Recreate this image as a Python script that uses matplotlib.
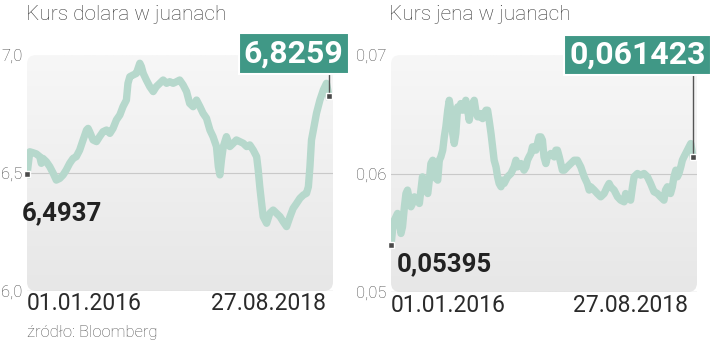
import numpy as np
import matplotlib
matplotlib.use('Agg')
import matplotlib.pyplot as plt
import matplotlib.transforms as mtransforms
from matplotlib.patches import FancyBboxPatch
from matplotlib.colors import LinearSegmentedColormap

# dane: dni od 01.01.2016, kurs
dni_usd = [0, 9, 19, 30, 41, 46, 51, 62, 73, 84, 94, 105, 116, 126, 137, 148, 158, 169,
           180, 191, 196, 201, 212, 223, 233, 244, 255, 266, 276, 287, 298, 308, 319, 324,
           330, 340, 351, 362, 367, 373, 383, 394, 405, 415, 426, 437, 448, 458, 469, 480,
           490, 501, 512, 522, 533, 544, 555, 565, 576, 587, 597, 608, 614, 619, 624, 630,
           640, 651, 662, 672, 683, 694, 705, 715, 726, 737, 742, 747, 753, 758, 769, 779,
           790, 801, 812, 822, 833, 844, 854, 865, 876, 887, 897, 903, 908, 913, 919, 929,
           940, 951, 961, 969]
kurs_usd = [6.4937, 6.590, 6.586, 6.581, 6.569, 6.541, 6.562, 6.548, 6.527, 6.499, 6.470,
            6.477, 6.492, 6.513, 6.541, 6.562, 6.569, 6.597, 6.640, 6.682, 6.689, 6.675,
            6.640, 6.633, 6.654, 6.675, 6.682, 6.668, 6.689, 6.725, 6.746, 6.781, 6.809,
            6.880, 6.908, 6.915, 6.922, 6.965, 6.951, 6.922, 6.894, 6.866, 6.845, 6.866,
            6.880, 6.894, 6.880, 6.887, 6.880, 6.887, 6.894, 6.873, 6.845, 6.795, 6.781,
            6.809, 6.781, 6.753, 6.732, 6.682, 6.654, 6.612, 6.527, 6.492, 6.555, 6.612,
            6.654, 6.612, 6.626, 6.640, 6.633, 6.626, 6.612, 6.619, 6.597, 6.569, 6.513,
            6.442, 6.371, 6.315, 6.287, 6.329, 6.343, 6.329, 6.315, 6.294, 6.273, 6.315,
            6.350, 6.371, 6.393, 6.407, 6.414, 6.442, 6.527, 6.640, 6.682, 6.753, 6.809,
            6.852, 6.880, 6.8259]

dni_jpy = [0, 5, 11, 16, 21, 27, 32, 37, 43, 48, 53, 59, 64, 69, 75, 85, 91, 96, 101, 107,
           118, 123, 128, 134, 139, 150, 155, 160, 166, 171, 176, 182, 187, 192, 198, 203,
           208, 214, 219, 224, 230, 235, 240, 246, 251, 256, 262, 267, 272, 278, 283, 288,
           294, 299, 305, 310, 315, 321, 326, 331, 337, 342, 347, 353, 358, 363, 374, 385,
           395, 401, 406, 417, 427, 433, 438, 443, 449, 454, 459, 465, 470, 475, 481, 486,
           491, 497, 502, 513, 524, 529, 534, 540, 545, 550, 556, 566, 577, 588, 598, 609,
           620, 630, 636, 641, 652, 662, 673, 684, 694, 700, 705, 716, 727, 737, 748, 753,
           759, 769, 775, 780, 791, 801, 812, 823, 833, 844, 855, 865, 876, 881, 887, 897,
           903, 908, 914, 919, 924, 930, 935, 940, 951, 962, 969]
kurs_jpy = [0.05395, 0.05522, 0.05607, 0.05635, 0.05663, 0.05607, 0.05494, 0.05551, 0.05719,
            0.05831, 0.05860, 0.05775, 0.05719, 0.05747, 0.05803, 0.05775, 0.05747, 0.05860,
            0.05972, 0.05888, 0.05831, 0.05944, 0.06084, 0.06112, 0.05972, 0.05944, 0.06112,
            0.06140, 0.06197, 0.06309, 0.06393, 0.06534, 0.06618, 0.06534, 0.06337, 0.06253,
            0.06337, 0.06562, 0.06534, 0.06590, 0.06534, 0.06562, 0.06618, 0.06534, 0.06449,
            0.06534, 0.06590, 0.06618, 0.06534, 0.06478, 0.06478, 0.06506, 0.06463, 0.06506,
            0.06534, 0.06534, 0.06449, 0.06337, 0.06225, 0.06112, 0.06056, 0.05972, 0.05916,
            0.05888, 0.05944, 0.05916, 0.05972, 0.06000, 0.06056, 0.06112, 0.06056, 0.06084,
            0.06028, 0.06056, 0.06112, 0.06140, 0.06169, 0.06225, 0.06225, 0.06197, 0.06253,
            0.06309, 0.06309, 0.06281, 0.06140, 0.06084, 0.06140, 0.06169, 0.06140, 0.06197,
            0.06197, 0.06140, 0.06084, 0.06028, 0.06028, 0.06056, 0.06084, 0.06112, 0.06112,
            0.06056, 0.05972, 0.05916, 0.05860, 0.05888, 0.05860, 0.05831, 0.05803, 0.05831,
            0.05888, 0.05916, 0.05888, 0.05860, 0.05803, 0.05775, 0.05761, 0.05831, 0.05803,
            0.05775, 0.05888, 0.05972, 0.06000, 0.05986, 0.06000, 0.05972, 0.05916, 0.05846,
            0.05831, 0.05803, 0.05775, 0.05860, 0.05888, 0.05831, 0.05888, 0.05972, 0.06028,
            0.05972, 0.06000, 0.06056, 0.06112, 0.06140, 0.06197, 0.06253, 0.061423]

daty = ['01.01.2016', '27.08.2018']
yt_usd = [6.0, 6.5, 7.0]
yl_usd = ['6,0', '6,5', '7,0']
yt_jpy = [0.05, 0.06, 0.07]
yl_jpy = ['0,05', '0,06', '0,07']

plt.rcParams['font.family'] = ['Roboto', 'DejaVu Sans']

LINIA = '#b6d8cc'
ZIELONY = '#409886'
TEKST = '#3a3a3a'

fig = plt.figure(figsize=(7.2, 3.45), dpi=100)
W, H = 720, 345


def px_rect(x0, y0, x1, y1):
    # piksele (od gory) -> wspolrzedne figury
    return [x0 / W, 1 - y1 / H, (x1 - x0) / W, (y1 - y0) / H]


szary = LinearSegmentedColormap.from_list('szary', ['#e7e7e7', '#f7f7f7'])


def panel(rect, dni, kurs, yt, yl, tytul, tx, start_txt, start_pos, end_txt, box_pos, box_bottom, daty_x):
    bg = fig.add_axes(rect, zorder=0)
    bg.set_axis_off()
    grad = np.linspace(0, 1, 100).reshape(-1, 1)
    im = bg.imshow(grad, extent=(0, 1, 0, 1), origin='lower', aspect='auto', cmap=szary,
                   transform=bg.transAxes)
    patch = FancyBboxPatch((0, 0), 1, 1, boxstyle='round,pad=0,rounding_size=0.03',
                           mutation_aspect=1.3, transform=bg.transAxes,
                           facecolor='none', edgecolor='none')
    bg.add_patch(patch)
    im.set_clip_path(patch)
    bg.set_xlim(0, 1)
    bg.set_ylim(0, 1)

    ax = fig.add_axes(rect, zorder=1)
    ax.patch.set_alpha(0)
    for s in ax.spines.values():
        s.set_visible(False)
    ax.set_xlim(0, 982)
    ax.set_ylim(yt[0], yt[-1])
    ax.set_xticks([])
    ax.set_yticks(yt)
    ax.set_yticklabels(yl)
    ax.tick_params(axis='y', length=0, pad=3, labelsize=12, labelcolor='#444444')
    for lab in ax.get_yticklabels():
        lab.set_fontweight('light')

    ax.axhline(yt[1], color='#c9c9c9', lw=0.8, zorder=1)
    ax.axhline(yt[0], color='#d6d6d6', lw=1.0, zorder=1)

    ax.plot(dni, kurs, color=LINIA, lw=5.3, solid_joinstyle='round', zorder=2)

    # znaczniki poczatku i konca
    ax.plot([dni[0], dni[-1]], [kurs[0], kurs[-1]], 's', ms=4.5, mfc='#4a4a4a',
            mec='white', mew=1, zorder=5, clip_on=False)

    trans = mtransforms.blended_transform_factory(ax.transData, ax.transAxes)
    ax.plot([dni[-1], dni[-1]], [box_bottom, ax.transAxes.inverted().transform(
        ax.transData.transform((dni[-1], kurs[-1])))[1]], color='#555555', lw=1,
        transform=trans, zorder=4, clip_on=False)

    ax.text(start_pos[0], start_pos[1], start_txt, transform=ax.transAxes, ha='left',
            va='center', fontsize=18.5, fontweight='bold', color='#222222', zorder=6)
    ax.text(box_pos[0], box_pos[1], end_txt, transform=ax.transAxes, ha='center',
            va='center', fontsize=23, fontweight='bold', color='white', zorder=6,
            bbox=dict(boxstyle='square,pad=0.16', facecolor=ZIELONY, edgecolor='white', lw=1.5))

    ax.text(0, -0.055, daty[0], transform=ax.transAxes, ha='left', va='center',
            fontsize=16.5, color='#2a2a2a')
    ax.text(daty_x, -0.055, daty[1], transform=ax.transAxes, ha='right', va='center',
            fontsize=16.5, color='#2a2a2a')

    fig.text(tx / W, 1 - 14 / H, tytul, ha='left', va='center', fontsize=15,
             fontweight='light', color=TEKST)
    return ax


panel(px_rect(27, 55, 333, 291), dni_usd, kurs_usd, yt_usd, yl_usd,
      'Kurs dolara w juanach', 26, '6,4937', (-0.017, 0.33), '6,8259', (0.871, 1.006),
      0.93, 0.977)
panel(px_rect(391, 55, 697, 292), dni_jpy, kurs_jpy, yt_jpy, yl_jpy,
      'Kurs jena w juanach', 389, '0,05395', (0.02, 0.118), '0,061423', (0.806, 1.0),
      0.925, 0.97)

fig.text(27 / W, 1 - 332 / H, 'źródło: Bloomberg', ha='left', va='center', fontsize=12,
         color='#555555', fontweight='light')

fig.savefig('out.png', dpi=100, facecolor='white')
